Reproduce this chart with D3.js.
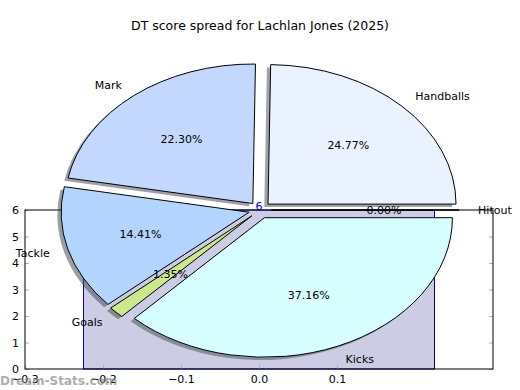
<!DOCTYPE html>
<html>
<head>
<meta charset="utf-8">
<script src="https://cdn.jsdelivr.net/npm/d3@7"></script>
<style>
  body { margin: 0; background: #fff; }
  text { font-family: "DejaVu Sans", sans-serif; }
</style>
</head>
<body>
<div id="chart"></div>
<script>
// Dữ liệu của biểu đồ tròn (thứ tự ngược chiều kim đồng hồ, bắt đầu từ 0°)
const sliceLabels = ["Hitout", "Handballs", "Mark", "Tackle", "Goals", "Kicks"];
const sliceValues = [0.00, 24.77, 22.30, 14.41, 1.35, 37.16];
const sliceColors = ["#ffffff", "#eaf1ff", "#c4d8ff", "#b3d4ff", "#cce88c", "#d7ffff"];

// Dữ liệu của cột phía sau
const barX = [0];
const barValues = [6];
const xTicks = [-0.3, -0.2, -0.1, 0.0, 0.1];
const yTicks = [0, 1, 2, 3, 4, 5, 6];

const W = 520, H = 390;
const svg = d3.select("#chart").append("svg")
    .attr("width", W)
    .attr("height", H);

// Tiêu đề
svg.append("text")
    .attr("x", 260)
    .attr("y", 30)
    .attr("text-anchor", "middle")
    .style("font-size", "12.5px")
    .text("DT score spread for Lachlan Jones (2025)");

// ---- Trục và cột ----
const x = d3.scaleLinear().domain([-0.3, 0.3]).range([25, 493]);
const y = d3.scaleLinear().domain([0, 6]).range([369, 210]);
const barWidth = 0.45;

svg.selectAll(".bar")
    .data(barX)
    .enter()
    .append("rect")
    .attr("class", "bar")
    .attr("x", d => x(d - barWidth / 2))
    .attr("y", (d, i) => y(barValues[i]))
    .attr("width", d => x(d + barWidth / 2) - x(d - barWidth / 2))
    .attr("height", (d, i) => y(0) - y(barValues[i]))
    .attr("fill", "#ccccE4")
    .attr("stroke", "#0000a8")
    .attr("stroke-width", 1);

// Nhãn giá trị trên cột
svg.selectAll(".barlabel")
    .data(barX)
    .enter()
    .append("text")
    .attr("x", d => x(d))
    .attr("y", (d, i) => y(barValues[i]) - 0.5)
    .attr("text-anchor", "middle")
    .style("font-size", "11px")
    .style("fill", "#0000c0")
    .text((d, i) => barValues[i]);

// Trục (vạch hướng vào trong)
const gx = svg.append("g")
    .attr("transform", `translate(0,${y(0)})`)
    .call(d3.axisBottom(x).tickValues(xTicks).tickFormat(d3.format(".1f")).tickSize(-4).tickPadding(6));
const gy = svg.append("g")
    .attr("transform", `translate(${x(-0.3)},0)`)
    .call(d3.axisLeft(y).tickValues(yTicks).tickFormat(d3.format("d")).tickSize(-4).tickPadding(6));
const gyr = svg.append("g")
    .attr("transform", `translate(${x(0.3)},0)`)
    .call(d3.axisRight(y).tickValues(yTicks).tickSize(-4).tickFormat(""));
[gx, gy, gyr].forEach(g => {
    g.selectAll(".domain").remove();
    g.selectAll("line").attr("stroke", "#b0b0b0");
    g.selectAll("text").style("font-size", "11px").style("fill", "#000")
        .style("font-family", "DejaVu Sans, sans-serif");
});

// Khung trục
svg.append("rect")
    .attr("x", x(-0.3))
    .attr("y", y(6))
    .attr("width", x(0.3) - x(-0.3))
    .attr("height", y(0) - y(6))
    .attr("fill", "none")
    .attr("stroke", "#000")
    .attr("stroke-width", 1);

// ---- Biểu đồ tròn (bị kéo giãn thành elip) ----
const cx = 260, cy = 210, rx = 188, ry = 139.5;
const explode = 0.06;
const shadowOff = 0.02;

const pie = d3.pie()
    .sort(null)
    .startAngle(Math.PI / 2)
    .endAngle(Math.PI / 2 - 2 * Math.PI);
const arcs = pie(sliceValues);
const arc = d3.arc().innerRadius(0).outerRadius(1);

const pieG = svg.append("g");

function offset(d, k) {
    const a = (d.startAngle + d.endAngle) / 2;
    return [cx + Math.sin(a) * k * rx, cy - Math.cos(a) * k * ry];
}

// Bóng đổ
pieG.selectAll(".shadow")
    .data(arcs)
    .enter()
    .append("path")
    .attr("class", "shadow")
    .attr("d", arc)
    .attr("transform", d => {
        const [ox, oy] = offset(d, explode);
        return `translate(${ox - shadowOff * rx},${oy + shadowOff * ry}) scale(${rx},${ry})`;
    })
    .attr("fill", (d, i) => {
        const c = d3.rgb(sliceColors[i]);
        return d3.rgb(c.r * 0.3, c.g * 0.3, c.b * 0.3);
    })
    .attr("fill-opacity", 0.5)
    .attr("stroke", "none");

// Các lát
pieG.selectAll(".wedge")
    .data(arcs)
    .enter()
    .append("path")
    .attr("class", "wedge")
    .attr("d", arc)
    .attr("transform", d => {
        const [ox, oy] = offset(d, explode);
        return `translate(${ox},${oy}) scale(${rx},${ry})`;
    })
    .attr("fill", (d, i) => sliceColors[i])
    .attr("stroke", "#000")
    .attr("stroke-width", 1)
    .attr("vector-effect", "non-scaling-stroke");

// Nhãn tên
pieG.selectAll(".name")
    .data(arcs)
    .enter()
    .append("text")
    .attr("x", d => offset(d, 1.1 + explode)[0])
    .attr("y", d => offset(d, 1.1 + explode)[1])
    .attr("dy", "0.35em")
    .attr("text-anchor", d => Math.sin((d.startAngle + d.endAngle) / 2) >= 0 ? "start" : "end")
    .style("font-size", "11px")
    .text((d, i) => sliceLabels[i]);

// Nhãn phần trăm
pieG.selectAll(".pct")
    .data(arcs)
    .enter()
    .append("text")
    .attr("x", d => offset(d, 0.6 + explode)[0])
    .attr("y", d => offset(d, 0.6 + explode)[1])
    .attr("dy", "0.35em")
    .attr("text-anchor", "middle")
    .style("font-size", "11px")
    .text((d, i) => sliceValues[i].toFixed(2) + "%");

// Watermark
svg.append("text")
    .attr("x", 0)
    .attr("y", 385)
    .style("font-size", "12px")
    .style("font-weight", "bold")
    .style("fill", "#888")
    .style("fill-opacity", 0.7)
    .text("Dream-Stats.com");
</script>
</body>
</html>
